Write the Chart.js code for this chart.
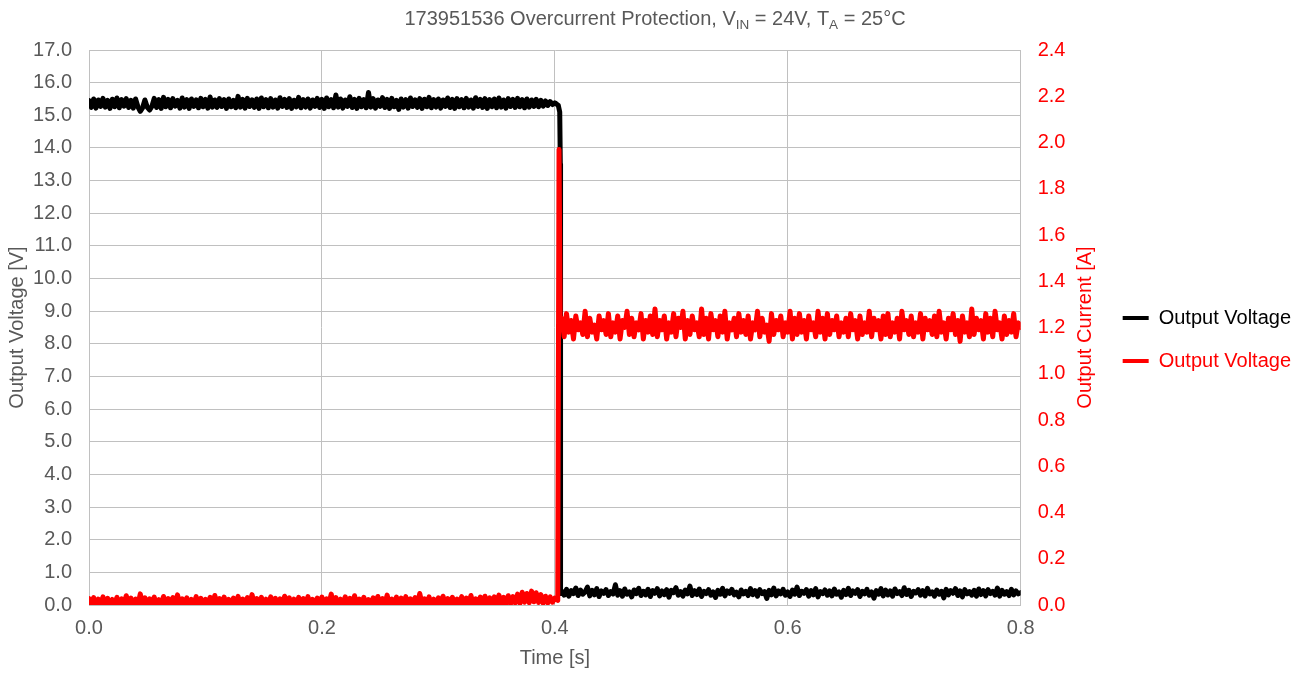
<!DOCTYPE html>
<html><head><meta charset="utf-8">
<script src="https://cdn.jsdelivr.net/npm/chart.js@4.4.1/dist/chart.umd.min.js"></script>
<style>html,body{margin:0;padding:0;background:#fff;}</style>
</head><body>
<canvas id="c" width="1301" height="673"></canvas>
<script>
// ---------------- DATA ----------------
const sampleStep = 0.002;          // s between samples
const preStart = 0.0;              // s
const postStart = 0.406;           // s

// Output voltage [V] before the fault (t = 0 ... 0.400 s)
const voltPre = [
15.45,15.24,15.50,15.22,15.47,15.27,15.52,15.25,15.46,15.21,15.49,15.26,15.53,15.23,15.48,15.28,15.51,15.24,15.46,15.22,
15.50,15.26,15.12,15.23,15.47,15.25,15.16,15.27,15.52,15.24,15.48,15.21,15.55,15.26,15.49,15.23,15.51,15.28,15.46,15.22,
15.53,15.25,15.48,15.21,15.50,15.27,15.47,15.23,15.52,15.26,15.49,15.22,15.56,15.25,15.47,15.24,15.51,15.27,15.48,15.21,
15.50,15.26,15.46,15.23,15.58,15.25,15.49,15.22,15.52,15.27,15.47,15.24,15.50,15.21,15.53,15.26,15.48,15.23,15.51,15.25,
15.47,15.22,15.54,15.27,15.49,15.24,15.51,15.21,15.46,15.26,15.55,15.23,15.48,15.25,15.50,15.22,15.47,15.27,15.52,15.24,
15.49,15.21,15.53,15.26,15.48,15.23,15.62,15.25,15.50,15.22,15.47,15.27,15.57,15.24,15.49,15.21,15.52,15.26,15.48,15.23,
15.70,15.25,15.51,15.22,15.47,15.27,15.54,15.24,15.49,15.21,15.52,15.26,15.46,15.18,15.50,15.25,15.48,15.22,15.53,15.27,
15.47,15.24,15.51,15.21,15.49,15.26,15.55,15.23,15.48,15.25,15.50,15.22,15.47,15.27,15.53,15.24,15.49,15.21,15.51,15.26,
15.48,15.23,15.52,15.25,15.47,15.22,15.54,15.27,15.49,15.24,15.51,15.21,15.48,15.26,15.50,15.23,15.53,15.25,15.47,15.22,
15.51,15.27,15.49,15.24,15.52,15.26,15.48,15.23,15.50,15.25,15.47,15.27,15.49,15.26,15.46,15.28,15.44,15.30,15.42,15.33,
15.38];
// Output voltage during the collapse
const voltStepTime = [0.401, 0.403, 0.4042, 0.4047, 0.4049];
const voltStep     = [15.36, 15.30, 15.10, 13.50, 0.35];
// Output voltage [V] after the fault (t = 0.406 ... 0.800 s)
const voltPost = [
0.42,0.30,0.48,0.27,0.44,0.35,0.52,0.29,0.46,0.33,0.40,0.55,0.28,0.45,0.31,0.50,0.26,0.43,0.36,0.47,
0.29,0.41,0.34,0.62,0.30,0.44,0.27,0.49,0.33,0.40,0.25,0.46,0.35,0.51,0.29,0.42,0.31,0.48,0.26,0.44,
0.36,0.50,0.28,0.43,0.32,0.47,0.24,0.45,0.38,0.53,0.30,0.41,0.27,0.46,0.34,0.58,0.29,0.44,0.32,0.49,
0.26,0.42,0.35,0.47,0.30,0.40,0.23,0.45,0.33,0.51,0.28,0.43,0.36,0.48,0.31,0.39,0.25,0.46,0.34,0.42,
0.29,0.50,0.32,0.44,0.27,0.47,0.35,0.41,0.20,0.45,0.31,0.52,0.28,0.43,0.34,0.48,0.30,0.40,0.26,0.46,
0.33,0.55,0.29,0.42,0.36,0.47,0.27,0.44,0.31,0.50,0.25,0.41,0.35,0.46,0.30,0.43,0.28,0.49,0.33,0.40,
0.24,0.45,0.32,0.51,0.29,0.43,0.36,0.47,0.26,0.42,0.34,0.48,0.30,0.40,0.21,0.44,0.33,0.50,0.28,0.46,
0.31,0.43,0.27,0.49,0.35,0.41,0.29,0.53,0.32,0.45,0.26,0.42,0.37,0.47,0.30,0.44,0.28,0.51,0.34,0.40,
0.27,0.46,0.33,0.42,0.22,0.48,0.31,0.44,0.36,0.50,0.29,0.43,0.25,0.47,0.34,0.41,0.30,0.45,0.27,0.49,
0.32,0.44,0.28,0.47,0.35,0.42,0.30,0.52,0.27,0.45,0.33,0.41,0.29,0.48,0.31,0.43,0.34,0.38];

// Output current [A] before the fault
const currPre = [
0.028,0.002,0.032,0.006,0.025,0.000,0.035,0.004,0.029,0.001,0.024,0.007,0.033,0.000,0.027,0.005,0.040,0.002,0.030,0.004,
0.026,0.001,0.048,0.006,0.031,0.000,0.027,0.005,0.034,0.002,0.023,0.004,0.037,0.000,0.028,0.007,0.032,0.001,0.044,0.003,
0.027,0.000,0.031,0.005,0.024,0.002,0.036,0.004,0.029,0.000,0.025,0.006,0.033,0.001,0.041,0.004,0.028,0.000,0.034,0.005,
0.024,0.002,0.030,0.007,0.037,0.000,0.026,0.004,0.032,0.001,0.045,0.005,0.028,0.000,0.033,0.003,0.025,0.001,0.035,0.006,
0.029,0.000,0.027,0.004,0.038,0.002,0.031,0.006,0.025,0.000,0.033,0.003,0.028,0.001,0.036,0.005,0.024,0.000,0.030,0.004,
0.034,0.001,0.027,0.006,0.047,0.000,0.032,0.003,0.025,0.002,0.035,0.005,0.029,0.000,0.040,0.004,0.026,0.001,0.033,0.006,
0.023,0.000,0.031,0.004,0.037,0.002,0.028,0.005,0.043,0.000,0.026,0.003,0.034,0.001,0.030,0.006,0.036,0.000,0.027,0.004,
0.032,0.002,0.050,0.005,0.027,0.000,0.035,0.003,0.025,0.001,0.031,0.006,0.038,0.000,0.028,0.004,0.033,0.002,0.026,0.005,
0.036,0.000,0.030,0.007,0.041,0.001,0.027,0.004,0.034,0.002,0.038,0.006,0.031,0.000,0.035,0.005,0.043,0.003,0.033,0.006,
0.040,0.005,0.036,0.009,0.047,0.007,0.055,0.012,0.050,0.010,0.060,0.014,0.053,0.011,0.045,0.008,0.038,0.009,0.035,0.012,
0.030];
// Output current at the fault
const currStepTime = [0.4025, 0.4036, 0.4046];
const currStep     = [0.02, 1.97, 1.22];
// Output current [A] after the fault
const currPost = [
1.24,1.16,1.26,1.18,1.23,1.15,1.25,1.19,1.22,1.17,1.27,1.16,1.24,1.18,1.21,1.15,1.25,1.19,1.23,1.17,
1.26,1.16,1.22,1.18,1.25,1.15,1.23,1.20,1.27,1.17,1.24,1.16,1.22,1.19,1.26,1.15,1.23,1.18,1.25,1.17,
1.28,1.16,1.23,1.19,1.25,1.15,1.22,1.18,1.26,1.16,1.24,1.20,1.27,1.15,1.23,1.17,1.25,1.19,1.22,1.16,
1.28,1.17,1.24,1.15,1.26,1.19,1.23,1.16,1.25,1.18,1.27,1.15,1.22,1.19,1.24,1.16,1.26,1.18,1.23,1.17,
1.25,1.15,1.22,1.19,1.27,1.16,1.24,1.18,1.21,1.14,1.26,1.17,1.23,1.19,1.25,1.16,1.22,1.18,1.27,1.15,
1.24,1.17,1.26,1.18,1.23,1.15,1.25,1.19,1.22,1.16,1.27,1.18,1.24,1.15,1.26,1.17,1.23,1.19,1.25,1.16,
1.22,1.18,1.24,1.16,1.26,1.19,1.23,1.15,1.25,1.17,1.22,1.18,1.27,1.16,1.24,1.19,1.23,1.15,1.25,1.17,
1.26,1.16,1.22,1.18,1.24,1.15,1.27,1.19,1.23,1.17,1.25,1.16,1.22,1.18,1.26,1.15,1.24,1.19,1.23,1.17,
1.25,1.16,1.27,1.18,1.22,1.15,1.24,1.19,1.26,1.17,1.23,1.14,1.25,1.18,1.22,1.16,1.28,1.17,1.24,1.19,
1.23,1.15,1.26,1.18,1.24,1.16,1.27,1.19,1.22,1.15,1.25,1.17,1.23,1.18,1.26,1.16,1.22,1.20];

const xRange = [0, 0.8];
const xStep = 0.2;
const vRange = [0, 17];
const vStep = 1;
const iRange = [0, 2.4];
const iStep = 0.2;

const seriesNames = ['Output Voltage', 'Output Voltage'];
const titleParts = [
  {text: '173951536 Overcurrent Protection, V', sub: false},
  {text: 'IN', sub: true},
  {text: ' = 24V, T', sub: false},
  {text: 'A', sub: true},
  {text: ' = 25°C', sub: false}
];
const xTitle = 'Time [s]';
const vTitle = 'Output Voltage [V]';
const iTitle = 'Output Current [A]';

// ---------------- BUILD ----------------
function toPoints(start, values) {
  return values.map((v, i) => ({x: +(start + i * sampleStep).toFixed(4), y: v}));
}
function zipPoints(ts, vs) { return ts.map((t, i) => ({x: t, y: vs[i]})); }

const voltData = [...toPoints(preStart, voltPre), ...zipPoints(voltStepTime, voltStep), ...toPoints(postStart, voltPost)];
const currData = [...toPoints(preStart, currPre), ...zipPoints(currStepTime, currStep), ...toPoints(postStart, currPost)];

const GREY = '#595959';
const GRID = '#C0C0C0';
const RED = '#FF0000';
const FONT = "'Liberation Sans', Arial, sans-serif";
Chart.defaults.font.family = FONT;
Chart.defaults.color = GREY;

const decorPlugin = {
  id: 'decor',
  afterDraw(chart) {
    const ctx = chart.ctx;
    ctx.save();
    const main = "20px " + FONT, small = "13.5px " + FONT;
    let total = 0;
    titleParts.forEach(p => { ctx.font = p.sub ? small : main; total += ctx.measureText(p.text).width; });
    let x = 655 - total / 2;
    const base = 25;
    ctx.fillStyle = GREY;
    ctx.textBaseline = 'alphabetic';
    ctx.textAlign = 'left';
    titleParts.forEach(p => {
      ctx.font = p.sub ? small : main;
      ctx.fillText(p.text, x, p.sub ? base + 4 : base);
      x += ctx.measureText(p.text).width;
    });
    const ca = chart.chartArea;
    ctx.translate(1085, (ca.top + ca.bottom) / 2);
    ctx.rotate(-Math.PI / 2);
    ctx.font = "20px " + FONT;
    ctx.fillStyle = RED;
    ctx.textAlign = 'center';
    ctx.textBaseline = 'middle';
    ctx.fillText(iTitle, 0, 0);
    ctx.restore();
  }
};

new Chart(document.getElementById('c'), {
  type: 'line',
  data: {
    datasets: [
      {label: seriesNames[0], data: voltData, yAxisID: 'y', borderColor: '#000000', backgroundColor: '#000000',
       borderWidth: 5, borderJoinStyle: 'round', borderCapStyle: 'round',
       pointRadius: 0, tension: 0, order: 1, clip: 0},
      {label: seriesNames[1], data: currData, yAxisID: 'y1', borderColor: RED, backgroundColor: RED,
       borderWidth: 5, borderJoinStyle: 'round', borderCapStyle: 'round',
       pointRadius: 0, tension: 0, order: 0, clip: 0}
    ]
  },
  options: {
    responsive: false,
    animation: false,
    devicePixelRatio: 1,
    layout: {padding: {top: 6, left: 0, right: 0, bottom: 0}},
    parsing: false,
    plugins: {
      title: {display: true, text: ' ', font: {size: 20, lineHeight: 1.2}, padding: {top: 4, bottom: 16}, color: 'rgba(0,0,0,0)'},
      tooltip: {enabled: false},
      legend: {
        position: 'right', align: 'center',
        labels: {
          usePointStyle: true, pointStyle: 'line', pointStyleWidth: 26, padding: 23,
          font: {size: 20},
          sort: (a, b) => a.datasetIndex - b.datasetIndex,
          generateLabels(chart) {
            const items = Chart.defaults.plugins.legend.labels.generateLabels(chart);
            items.forEach(it => { it.fontColor = it.strokeStyle; it.lineWidth = 4; });
            return items;
          }
        }
      }
    },
    scales: {
      x: {
        type: 'linear', min: xRange[0], max: xRange[1],
        ticks: {stepSize: xStep, padding: 11, color: GREY, font: {size: 20}, callback: v => v.toFixed(1)},
        grid: {color: GRID, drawTicks: false, lineWidth: 1},
        border: {color: GRID},
        title: {display: true, text: xTitle, color: GREY, font: {size: 20}, padding: {top: 0, bottom: 3}},
        afterFit(s) { s.height = 68; }
      },
      y: {
        position: 'left', min: vRange[0], max: vRange[1],
        ticks: {stepSize: vStep, padding: 17, color: GREY, font: {size: 20}, callback: v => v.toFixed(1)},
        grid: {color: GRID, drawTicks: false},
        border: {color: GRID},
        title: {display: true, text: vTitle, color: GREY, font: {size: 20}, padding: {top: 5, bottom: 0}},
        afterFit(s) { s.width = 89; }
      },
      y1: {
        position: 'right', min: iRange[0], max: iRange[1],
        ticks: {stepSize: iStep, padding: 17, color: RED, font: {size: 20}, callback: v => v.toFixed(1)},
        grid: {display: false, drawTicks: false},
        border: {display: false},
        afterFit(s) { s.width = 79; }
      }
    }
  },
  plugins: [decorPlugin]
});
</script>
</body></html>
